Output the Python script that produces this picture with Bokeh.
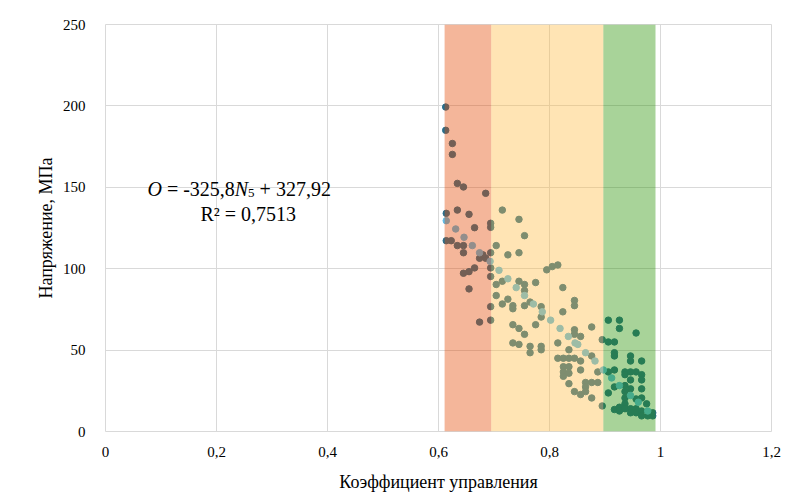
from bokeh.plotting import figure
from bokeh.models import ColumnDataSource, FixedTicker, CustomJSTickFormatter, Label
from bokeh.embed import file_html
from bokeh.resources import INLINE

# ---- data ----
dark_pts = [
    (0.613,199.3),(0.613,185.0),(0.625,176.9),(0.625,170.2),(0.634,152.4),(0.645,150.2),(0.685,146.3),
    (0.634,136.0),(0.614,134.0),(0.655,133.4),(0.694,127.9),(0.694,125.4),(0.665,125.2),(0.614,117.2),
    (0.623,117.2),(0.634,114.2),(0.645,114.2),(0.645,109.8),(0.694,109.8),(0.674,106.4),(0.685,106.4),
    (0.680,108.5),(0.694,100.5),(0.645,97.2),(0.655,98.2),(0.665,100.5),(0.694,95.2),(0.655,87.6),
    (0.694,76.7),(0.694,68.4),(0.674,67.2),
    (0.715,136.0),(0.745,130.3),(0.755,120.3),(0.704,114.2),(0.725,108.5),(0.745,109.8),(0.795,99.3),
    (0.805,101.3),(0.815,102.3),(0.715,92.3),(0.704,90.3),(0.745,92.3),(0.755,90.3),(0.775,91.5),
    (0.755,86.6),(0.824,88.4),(0.704,83.5),(0.725,81.3),(0.715,78.3),(0.734,77.3),(0.734,75.4),
    (0.755,77.3),(0.765,79.5),(0.785,76.7),(0.785,70.3),(0.824,73.5),(0.845,80.5),(0.845,77.3),
    (0.734,65.6),(0.745,63.3),(0.775,65.6),(0.755,59.7),(0.734,54.4),(0.745,53.5),(0.765,52.3),
    (0.765,48.4),(0.785,52.3),(0.785,50.2),(0.815,54.4),(0.815,45.0),(0.825,45.0),(0.835,45.0),
    (0.845,45.0),(0.825,39.8),(0.825,36.6),(0.825,33.9),(0.835,39.8),(0.835,35.8),(0.845,62.5),
    (0.845,59.7),(0.876,64.2),(0.856,58.4),(0.895,56.4),(0.835,50.2),(0.876,46.4),(0.856,43.3),
    (0.856,37.8),(0.887,36.6),(0.835,29.4),(0.865,30.1),(0.876,30.1),(0.887,30.1),(0.865,27.4),
    (0.865,24.5),(0.845,24.5),(0.856,22.7),(0.876,20.6),(0.895,15.7),
    (0.906,68.4),(0.926,68.4),(0.926,63.3),(0.956,60.5),(0.906,55.0),(0.917,55.0),(0.917,48.4),
    (0.917,46.4),(0.946,46.4),(0.946,43.3),(0.966,43.3),(0.906,36.6),(0.917,37.8),(0.936,36.6),
    (0.936,34.9),(0.946,36.6),(0.956,36.6),(0.966,34.9),(0.966,31.7),(0.946,31.7),(0.917,27.4),
    (0.936,28.2),(0.946,26.2),(0.966,26.2),(0.906,23.7),(0.936,24.5),(0.936,20.6),(0.966,20.6),
    (0.956,20.0),(0.936,17.0),(0.975,17.0),(0.917,13.5),(0.926,14.9),(0.926,12.6),(0.936,14.0),
    (0.946,14.0),(0.946,11.5),(0.956,14.0),(0.956,11.5),(0.966,12.6),(0.966,9.6),(0.977,9.6),
    (0.986,9.6),(0.986,11.5),
]
light_pts = [
    (0.614,129.5),(0.631,124.4),(0.646,119.3),(0.661,114.2),(0.674,109.8),(0.693,104.5),(0.709,99.0),
    (0.725,93.8),(0.740,88.4),(0.755,83.5),(0.771,78.3),(0.787,73.5),(0.802,68.4),(0.819,63.3),
    (0.834,58.4),(0.846,54.4),(0.851,53.5),(0.865,48.4),(0.882,43.3),(0.897,37.8),(0.912,32.9),
    (0.926,28.2),(0.946,22.1),(0.960,18.0),(0.977,12.6),
]
coef_x = [p[0] for p in dark_pts]
stress_y = [p[1] for p in dark_pts]
coef_x_light = [p[0] for p in light_pts]
stress_y_light = [p[1] for p in light_pts]

band_left = [0.611, 0.695, 0.897]
band_right = [0.695, 0.897, 0.991]
band_colors = ["#E44803", "#FFBB43", "#269100"]

x_ticks = [0, 0.2, 0.4, 0.6, 0.8, 1.0, 1.2]
y_ticks = [0, 50, 100, 150, 200, 250]

FONT = "Liberation Serif"
NB = "\u00a0"

p = figure(width=791, height=494, x_range=(0, 1.2), y_range=(0, 250),
           output_backend="svg", toolbar_location=None,
           min_border_left=105, min_border_right=20, min_border_top=24, min_border_bottom=62)
p.background_fill_color = "white"
p.border_fill_color = "white"
p.outline_line_color = "#D9D9D9"
p.outline_line_width = 1

p.xgrid.ticker = FixedTicker(ticks=x_ticks)
p.ygrid.ticker = FixedTicker(ticks=y_ticks)
p.grid.grid_line_color = "#D9D9D9"
p.grid.grid_line_width = 1

p.xaxis.ticker = FixedTicker(ticks=x_ticks)
p.yaxis.ticker = FixedTicker(ticks=y_ticks)
p.xaxis.formatter = CustomJSTickFormatter(code="""
    const s = (Math.round(tick * 10) / 10).toString();
    return s.replace('.', ',');
""")
for ax in (p.xaxis, p.yaxis):
    ax.axis_line_color = None
    ax.major_tick_line_color = None
    ax.minor_tick_line_color = None
    ax.major_label_text_font = FONT
    ax.major_label_text_font_size = "15px"
    ax.major_label_text_color = "black"
    ax.axis_label_text_font = FONT
    ax.axis_label_text_font_size = "18px"
    ax.axis_label_text_font_style = "normal"
    ax.axis_label_text_color = "black"
p.xaxis.major_label_standoff = 9
p.yaxis.major_label_standoff = 14
p.xaxis.axis_label = "Коэффициент управления"
p.yaxis.axis_label = "Напряжение, МПа"
p.xaxis.axis_label_standoff = 12
p.yaxis.axis_label_standoff = 4

src_d = ColumnDataSource(dict(x=coef_x, y=stress_y))
src_l = ColumnDataSource(dict(x=coef_x_light, y=stress_y_light))
p.scatter("x", "y", source=src_d, size=6.5, fill_color="#286E8C", line_color="#286E8C")
p.scatter("x", "y", source=src_l, size=6.5, fill_color="#5CBCE8", line_color="#5CBCE8")

bands = ColumnDataSource(dict(left=band_left, right=band_right, color=band_colors))
p.quad(left="left", right="right", bottom=0, top=250, source=bands,
       fill_color="color", fill_alpha=0.4, line_color=None)

# equation text
eq_x, eq_y = 0.0757, 148.9
pieces = [("O", 0, 0, "italic", "20px"),
          (NB + "=" + NB + "-325,8", 14.4, 0, "normal", "20px"),
          ("N", 87.3, 0, "italic", "20px"),
          ("5", 100.4, -4, "normal", "13px"),
          (NB + "+" + NB + "327,92", 107.1, 0, "normal", "20px")]
for txt, dx, dy, style, size in pieces:
    p.add_layout(Label(x=eq_x, y=eq_y, x_offset=dx, y_offset=dy, text=txt,
                       text_font=FONT, text_font_size=size, text_font_style=style,
                       text_color="black", text_baseline="alphabetic", text_align="left"))
p.add_layout(Label(x=0.171, y=133.6, text="R²" + NB + "=" + NB + "0,7513", text_font=FONT,
                   text_font_size="20px", text_color="black", text_baseline="alphabetic",
                   text_align="left"))

open("out.html", "w").write(file_html(p, INLINE))
